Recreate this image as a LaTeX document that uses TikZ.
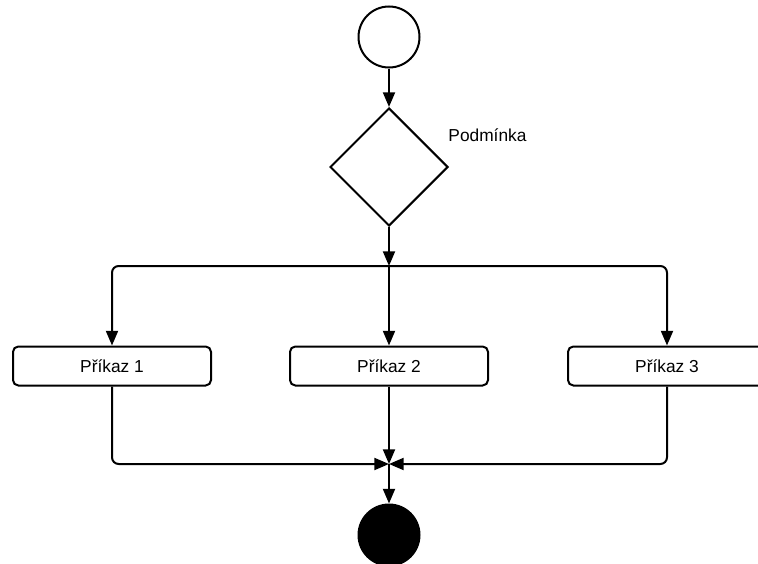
\documentclass[tikz,border=0pt]{standalone}
\usepackage{fontspec}
\setmainfont{Liberation Sans}
\usetikzlibrary{arrows.meta,shapes.geometric}

\begin{document}
\begin{tikzpicture}[x=0.75pt, y=-0.75pt, line width=1.5pt,
  flow/.style={-{Triangle[length=11pt,width=9pt]}},
  startnode/.style={draw, circle, inner sep=0pt, minimum size=45.75pt},
  endnode/.style={draw, fill=black, circle, inner sep=0pt, minimum size=45.75pt},
  decision/.style={draw, diamond, inner sep=0pt, minimum width=88.5pt, minimum height=88.5pt},
  cmdbox/.style={draw, rounded corners=4pt, minimum width=148.5pt, minimum height=29.25pt, font=\fontsize{13}{15}\selectfont},
  condtext/.style={font=\fontsize{13}{15}\selectfont, anchor=west}]
\useasboundingbox (0,0) rectangle (758,564);
% start and decision
\node[startnode] (start) at (389,37) {};
\node[decision] (cond) at (389,167) {};
\node[condtext] (condlabel) at (443,135) {Podmínka};
\coordinate (split) at (389,266);
% commands
\node[cmdbox] (cmd1) at (112,366) {Příkaz 1};
\node[cmdbox] (cmd2) at (389,366) {Příkaz 2};
\node[cmdbox] (cmd3) at (667,366) {Příkaz 3};
% merge and end
\coordinate (join) at (389,464);
\node[endnode] (end) at (389,535) {};
% connectors
\draw[flow] (start) -- (cond);
\draw[flow] (cond) -- (split);
\draw[flow, rounded corners=5pt] (split) -| (cmd1);
\draw[flow] (split) -- (cmd2);
\draw[flow, rounded corners=5pt] (split) -| (cmd3);
\draw[flow, rounded corners=5pt] (cmd1) |- (join);
\draw[flow] (cmd2) -- (join);
\draw[flow, rounded corners=5pt] (cmd3) |- (join);
\draw[flow] (join) -- (end);
\end{tikzpicture}
\end{document}
